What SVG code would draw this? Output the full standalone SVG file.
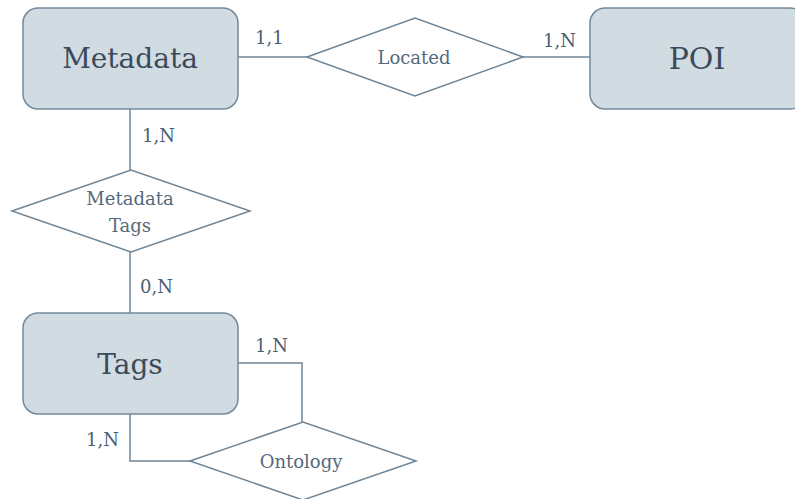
<svg xmlns="http://www.w3.org/2000/svg" width="795" height="499" viewBox="0 0 795 499">
  <style>
    .entity rect { fill: #d1dbe2; stroke: #73899a; stroke-width: 1.5; }
    .entity text { font-family: "DejaVu Serif", "Liberation Serif", serif; font-size: 28px; fill: #3b4a5a; text-anchor: middle; dominant-baseline: central; }
    .rel polygon { fill: #ffffff; stroke: #6f8595; stroke-width: 1.5; }
    .rel text { font-family: "DejaVu Serif", "Liberation Serif", serif; font-size: 18px; fill: #55697b; text-anchor: middle; dominant-baseline: central; }
    .edges path { fill: none; stroke: #6f8595; stroke-width: 1.5; }
    .card { font-family: "DejaVu Serif", "Liberation Serif", serif; font-size: 18px; fill: #4b5f72; }
  </style>
  <rect width="795" height="499" fill="#ffffff"/>

  <g class="edges" id="connectors">
    <path d="M238,57 H307"/>
    <path d="M523,57 H590"/>
    <path d="M130,109 V170"/>
    <path d="M130,252 V313"/>
    <path d="M238,363 H302 V422"/>
    <path d="M130,414 V461 H190"/>
    <text class="card" x="255" y="44">1,1</text>
    <text class="card" x="543" y="47">1,N</text>
    <text class="card" x="142" y="142">1,N</text>
    <text class="card" x="140" y="293">0,N</text>
    <text class="card" x="255" y="352">1,N</text>
    <text class="card" x="86" y="446">1,N</text>
  </g>

  <g class="entity" id="metadata">
    <rect x="23" y="8" width="215" height="101" rx="15"/>
    <text x="130" y="58">Metadata</text>
  </g>
  <g class="entity" id="poi">
    <rect x="590" y="8" width="215" height="101" rx="15"/>
    <text x="697" y="58" style="font-size:30px">POI</text>
  </g>
  <g class="entity" id="tags">
    <rect x="23" y="313" width="215" height="101" rx="15"/>
    <text x="130" y="364">Tags</text>
  </g>

  <g class="rel" id="located">
    <polygon points="307,57 415,18 523,57 415,96"/>
    <text x="414" y="57">Located</text>
  </g>
  <g class="rel" id="metadata-tags">
    <polygon points="12,211 131,170 250,211 131,252"/>
    <text x="130" y="198">Metadata</text>
    <text x="130" y="225">Tags</text>
  </g>
  <g class="rel" id="ontology">
    <polygon points="190,461 303,422 416,461 303,500"/>
    <text x="301" y="461">Ontology</text>
  </g>
</svg>
